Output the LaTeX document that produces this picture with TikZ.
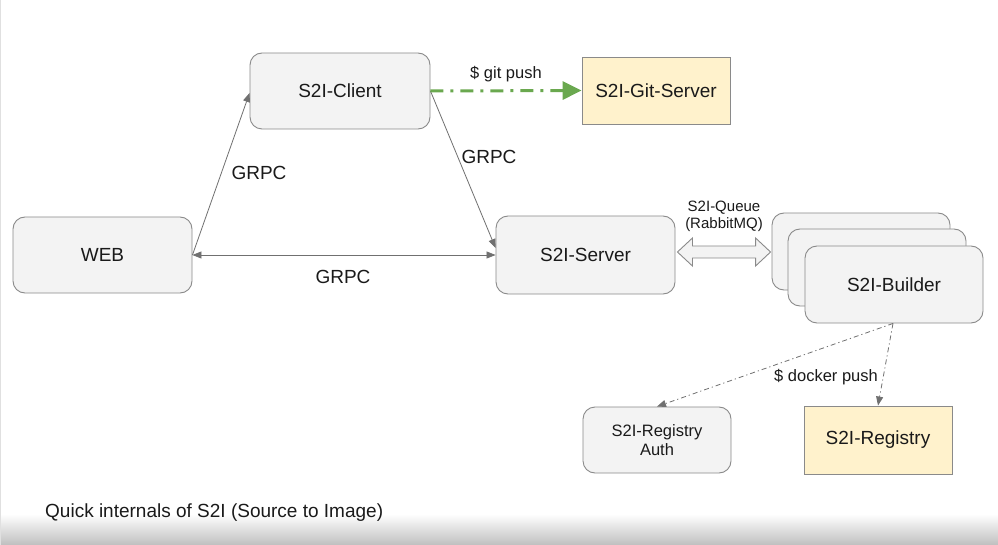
\documentclass[tikz,border=0pt]{standalone}
\usepackage{fontspec}
\setmainfont{Liberation Sans}
\usetikzlibrary{arrows.meta,calc}
\definecolor{boxfill}{HTML}{F3F3F3}
\definecolor{boxline}{HTML}{8A8A8A}
\definecolor{yelfill}{HTML}{FFF2CC}
\definecolor{linegray}{HTML}{707070}
\definecolor{txt}{HTML}{1A1A1A}
\definecolor{gitgreen}{HTML}{6AA84F}
\tikzset{
  x=1pt, y=-1pt,
  every node/.style={text=txt},
  bigfont/.style={font=\fontsize{19}{22}\selectfont},
  midfont/.style={font=\fontsize{16.5}{19}\selectfont},
  smallfont/.style={font=\fontsize{15}{17}\selectfont},
  graybox/.style={draw=boxline, fill=boxfill, rounded corners=12pt, line width=0.9pt, inner sep=0pt, align=center},
  yelbox/.style={draw=boxline, fill=yelfill, line width=0.9pt, inner sep=0pt, align=center},
  conn/.style={draw=linegray, line width=0.8pt},
  tip/.style={-{Triangle[length=9pt,width=7pt]}},
  dtip/.style={{Triangle[length=9pt,width=7pt]}-{Triangle[length=9pt,width=7pt]}},
  dashdot/.style={draw=linegray, line width=0.8pt, dash pattern=on 5pt off 3pt on 1.2pt off 3pt},
  lbl/.style={inner sep=0pt}
}
\begin{document}
\begin{tikzpicture}
\useasboundingbox (0,0) rectangle (998,545);
\fill[white] (0,0) rectangle (998,545);
\shade[top color=white, bottom color=black!25] (0,514) rectangle (998,545);
\draw[black!12, line width=1pt] (0.5,0) -- (0.5,545);

% nodes
\node[graybox, bigfont, minimum width=179pt, minimum height=76pt] (web) at (102.5,255) {WEB};
\node[graybox, bigfont, minimum width=180pt, minimum height=76pt] (client) at (340,91) {S2I-Client};
\node[yelbox, bigfont, minimum width=148pt, minimum height=67pt] (git) at (656,90.5) {S2I-Git-Server};
\node[graybox, bigfont, minimum width=179pt, minimum height=78pt] (server) at (585.5,255) {S2I-Server};
\node[graybox, minimum width=178pt, minimum height=77pt] (b1) at (861,251.5) {};
\node[graybox, minimum width=178pt, minimum height=77pt] (b2) at (877,267.5) {};
\node[graybox, bigfont, minimum width=178pt, minimum height=77pt] (b3) at (894,284.5) {S2I-Builder};
\node[graybox, midfont, minimum width=148pt, minimum height=66pt] (auth) at (657,440) {S2I-Registry\\Auth};
\node[yelbox, bigfont, minimum width=148pt, minimum height=68pt] (reg) at (878,440) {S2I-Registry};

% connectors
\draw[conn, dtip] (web.east) -- (server.west);
\draw[conn, tip] (web.east) -- ($(client.west)+(0,2)$);
\draw[conn, tip] (client.east) -- ($(server.west)+(0,-7)$);
\draw[gitgreen, line width=3pt, dash pattern=on 13pt off 7pt on 3pt off 7pt,
      -{Triangle[length=19pt,width=18pt]}] (client.east) -- (git.west);

% double arrow queue
\coordinate (qa) at ($(server.east)+(2,-3)$);
\coordinate (qb) at ($(b1.west)+(-1,0.5)$);
\draw[draw=boxline, fill=boxfill, line width=0.9pt]
  (qa) -- ++(15,-14) -- ++(0,8) -- ($(qb)+(-15,-6)$) -- ++(0,-8)
  -- (qb) -- ++(-15,14) -- ++(0,-8) -- ($(qa)+(15,6)$) -- ++(0,8) -- cycle;

\coordinate (bs) at ($(b3.south)+(-1,0)$);
\draw[dashdot, -{Triangle[length=9pt,width=7pt]}] (bs) -- (auth.north);
\draw[dashdot, -{Triangle[length=9pt,width=7pt]}] (bs) -- (reg.north);

% labels
\node[lbl, bigfont] (l1) at (259,173) {GRPC};
\node[lbl, bigfont] (l2) at (489,157) {GRPC};
\node[lbl, bigfont] (l3) at (343,277) {GRPC};
\node[lbl, midfont] (l4) at (506,74) {\$ git push};
\node[lbl, midfont] (l5) at (826,377) {\$ docker push};
\node[lbl, smallfont, align=center] (l6) at (724,216) {S2I-Queue\\(RabbitMQ)};
\node[lbl, bigfont, anchor=west] (cap) at (45,513) {Quick internals of S2I (Source to Image)};
\end{tikzpicture}
\end{document}
